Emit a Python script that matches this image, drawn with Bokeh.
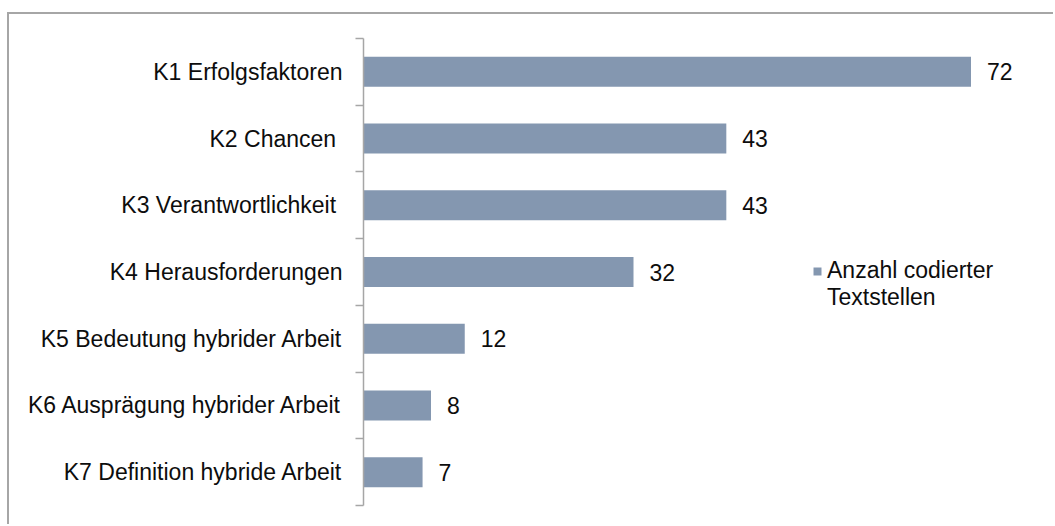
from bokeh.plotting import figure
from bokeh.models import (Range1d, LinearAxis, FixedTicker,
                          ColumnDataSource, Legend, LegendItem)
from bokeh.core.properties import value
from bokeh.embed import file_html
from bokeh.resources import INLINE

categories = ["K1 Erfolgsfaktoren", "K2 Chancen ", "K3 Verantwortlichkeit ",
              "K4 Herausforderungen", "K5 Bedeutung hybrider Arbeit",
              "K6 Ausprägung hybrider Arbeit", "K7 Definition hybride Arbeit"]
counts = [72, 43, 43, 32, 12, 8, 7]
series_name = ["Anzahl codierter", "Textstellen"]

FONT = "Liberation Sans"
FS = "23px"
BAR = "#8497B0"
GRAY = "#a6a6a6"
TXT = "#0d0d0d"

n = len(categories)
centers = [n - i - 0.5 for i in range(n)]          # category slot centres, K1 on top
bounds = list(range(n + 1))                          # slot boundaries

src = ColumnDataSource(dict(y=centers, val=counts, lab=[str(v) for v in counts]))

p = figure(width=1046, height=512,
           y_range=Range1d(0, n), x_range=Range1d(0, 80),
           x_axis_location=None, y_axis_location=None,
           output_backend="svg", toolbar_location=None,
           min_border_left=354, min_border_right=17, min_border_top=24, min_border_bottom=21)
p.styles = {"margin-left": "7px", "margin-top": "12px",
            "border-left": f"2px solid {GRAY}", "border-top": f"2px solid {GRAY}"}
p.outline_line_color = None
p.xgrid.visible = False
p.ygrid.visible = False
p.background_fill_color = "white"
p.border_fill_color = "white"

bars = p.hbar(y="y", right="val", left=0, height=0.45, source=src,
              fill_color=BAR, line_color=None)
p.text(x="val", y="y", text="lab", source=src, x_offset=16,
       text_baseline="middle", text_align="left",
       text_font=value(FONT), text_font_size=FS, text_color=TXT)

# category labels at slot centres, tick marks at slot boundaries (minor ticks)
y_axis = LinearAxis(ticker=FixedTicker(ticks=centers, minor_ticks=bounds),
                    major_label_overrides={c: name for c, name in zip(centers, categories)},
                    axis_line_color=GRAY, axis_line_width=1.5,
                    major_tick_line_color=None, major_tick_out=0, major_tick_in=0,
                    minor_tick_line_color=GRAY, minor_tick_line_width=1.5,
                    minor_tick_out=8, minor_tick_in=0,
                    major_label_standoff=13,
                    major_label_text_font=FONT,
                    major_label_text_font_size=FS,
                    major_label_text_color=TXT)
p.add_layout(y_axis, "left")

legend = Legend(items=[LegendItem(label=series_name[0], renderers=[bars]),
                       LegendItem(label=series_name[1], renderers=[])],
                location=(449, 194), glyph_width=10, glyph_height=10,
                label_standoff=5, padding=0, margin=0, spacing=0,
                label_text_font=FONT, label_text_font_size=FS,
                label_text_color=TXT, label_height=24,
                border_line_color=None, background_fill_alpha=0)
p.add_layout(legend, "center")

open("out.html", "w").write(file_html(p, INLINE))
